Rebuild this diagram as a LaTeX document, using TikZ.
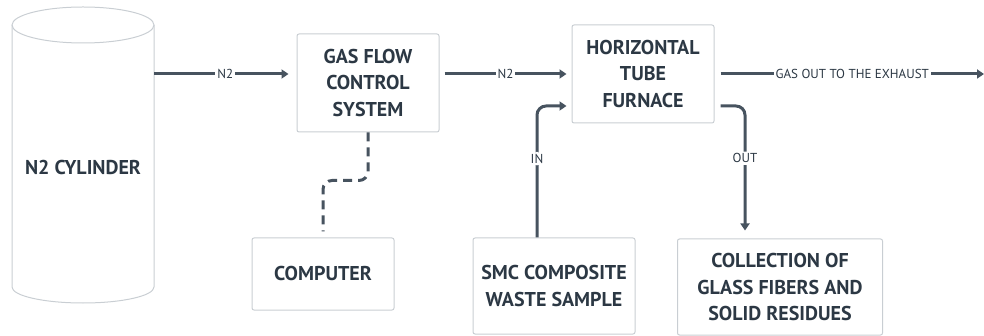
\documentclass[tikz,border=0pt]{standalone}
\usepackage{fontspec}
\setmainfont{PT Sans}
\usetikzlibrary{arrows.meta}
\definecolor{ink}{HTML}{2C3844}
\definecolor{wire}{HTML}{47535F}
\definecolor{edge}{HTML}{C9CED3}
\tikzset{
  unit/.style={draw=edge, line width=1pt, rounded corners=2pt, align=center,
    text=ink, font=\bfseries\fontsize{20}{26.5}\selectfont},
  flow/.style={draw=wire, line width=3pt, -{Triangle[length=7pt,width=9pt]}},
  ctrl/.style={draw=wire, line width=3pt, dash pattern=on 9pt off 6pt, rounded corners=9pt},
  lbl/.style={fill=white, text=ink, inner sep=2pt, font=\fontsize{13}{15}\selectfont}
}
\begin{document}
\begin{tikzpicture}[x=1pt, y=-1pt]
    \useasboundingbox (0,0) rectangle (984,336);
    % cylinder outline
    \draw[edge, line width=1pt] (12,25) -- (12,287) arc[start angle=180, end angle=0, x radius=71, y radius=16] -- (154,25);
    \draw[edge, line width=1pt] (83,25) ellipse[x radius=71, y radius=18];
    \node[text=ink, font=\bfseries\fontsize{20}{26.5}\selectfont] (cyl) at (83,168) {N2 CYLINDER};
    \coordinate (cylout) at (154,74);
    \coordinate (exhaust) at (984,74);

    \node[unit, minimum width=142pt, minimum height=98pt] (gas) at (368,83) {GAS FLOW\\CONTROL\\SYSTEM};
    \node[unit, minimum width=142pt, minimum height=98pt] (furnace) at (643,74) {HORIZONTAL\\TUBE\\FURNACE};
    \node[unit, minimum width=142pt, minimum height=72pt] (computer) at (323,274) {COMPUTER};
    \node[unit, minimum width=162pt, minimum height=96pt] (smc) at (554,286) {SMC COMPOSITE\\WASTE SAMPLE};
    \node[unit, minimum width=205pt, minimum height=96pt] (coll) at (780,287) {COLLECTION OF\\GLASS FIBERS AND\\SOLID RESIDUES};

    % Edges
    \draw[flow, shorten >=8pt] (cylout) -- node[lbl] {N2} (gas.west |- cylout);
    \draw[flow] ([xshift=5pt]gas.east |- furnace) -- node[lbl] {N2} ([xshift=-5pt]furnace.west);
    \draw[flow] ([xshift=6pt]furnace.east) -- node[lbl] {GAS OUT TO THE EXHAUST} (exhaust);
    \draw[flow, rounded corners=9pt] ([xshift=-17pt]smc.north) |- node[lbl, pos=0.3] {IN} ([xshift=-5pt, yshift=-32pt]furnace.west);
    \draw[flow, rounded corners=9pt] ([xshift=6pt, yshift=-32pt]furnace.east) -| node[lbl, pos=0.71] {OUT} ([xshift=-35pt, yshift=8pt]coll.north);
    \draw[ctrl] (gas.south) -- ([yshift=-48pt]gas.south) -| ([yshift=6pt]computer.north);
\end{tikzpicture}
\end{document}
